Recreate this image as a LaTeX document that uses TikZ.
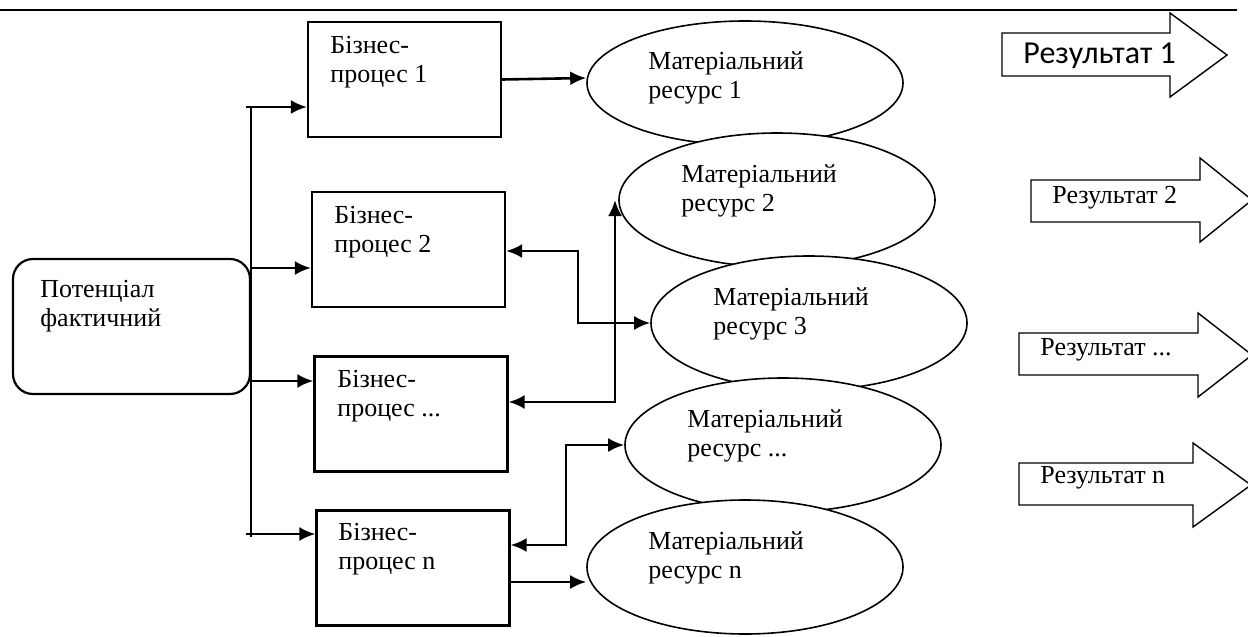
\documentclass[tikz,border=0pt]{standalone}
\usepackage{fontspec}
\setmainfont{Liberation Serif}
\newfontfamily\calfont{Carlito}
\usetikzlibrary{shapes.geometric,arrows.meta}

\begin{document}
\begin{tikzpicture}[x=0.5pt,y=-0.5pt]
	    \tikzset{>={Latex[length=8pt,width=7pt]}}
	    \tikzset{proc/.style={draw,line width=1.1pt,minimum width=96.5pt,minimum height=57.5pt,inner sep=0pt}}
	    \tikzset{res/.style={draw,ellipse,fill=white,line width=0.8pt,minimum width=158pt,minimum height=67pt,inner sep=0pt}}
	    \tikzset{txt/.style={anchor=west,align=left,inner sep=0pt,font=\fontsize{13}{14.5}\selectfont}}
	    \tikzset{link/.style={line width=1.3pt}}
	    \tikzset{outarrow/.style={draw,line width=0.7pt,line join=miter}}
	    \useasboundingbox (0,0) rectangle (1248,637);
	    \clip (0,0) rectangle (1248,637);
	    \draw [line width=1.2pt] (0,10) -- (1237,10);
	    % left part
	    \node (pot) at (131.5,326.5) [draw,line width=1.1pt,rounded corners=10pt,minimum width=118.5pt,minimum height=67.5pt] {};
	    \node (pottxt) at (40,306.5) [txt] {Потенціал\\фактичний};
	    \node (b1) at (404.5,79.5) [proc] {};
	    \node (b2) at (408.5,249.5) [proc] {};
	    \node (b3) at (411,414) [proc] {};
	    \node (bn) at (413,568) [proc] {};
	    \node (b1txt) at (330,62.5) [txt] {Бізнес-\\процес 1};
	    \node (b2txt) at (334,232.5) [txt] {Бізнес-\\процес 2};
	    \node (b3txt) at (337,396) [txt] {Бізнес-\\процес ...};
	    \node (bntxt) at (338,549.5) [txt] {Бізнес-\\процес n};
	    % resources
	    \node (e1) at (745,83) [res,minimum height=62pt] {};
	    \node (e2) at (777,200) [res] {};
	    \node (e3) at (809,323) [res] {};
	    \node (e4) at (783,445) [res] {};
	    \node (en) at (745,567) [res] {};
	    \node (e1txt) at (648,77.5) [txt] {Матеріальний\\ресурс 1};
	    \node (e2txt) at (681,191) [txt] {Матеріальний\\ресурс 2};
	    \node (e3txt) at (713,313.5) [txt] {Матеріальний\\ресурс 3};
	    \node (e4txt) at (687,436) [txt] {Матеріальний\\ресурс ...};
	    \node (entxt) at (648,557.5) [txt] {Матеріальний\\ресурс n};
	    % trunk
	    \coordinate (t1) at (246,107);
	    \coordinate (t2) at (251,268);
	    \coordinate (t3) at (251,381);
	    \coordinate (t4) at (251,537);
	    \draw [link] (t1 -| t2) -- (t4);
	    \draw [link,->] (t1) -- (t1 -| b1.west);
	    \draw [link,->] (t2) -- (t2 -| b2.west);
	    \draw [link,->] (t3) -- (t3 -| b3.west);
	    \draw [link,->] (246,534) coordinate (t5) -- (t5 -| bn.west);
	    % links to resources
	    \draw [link,->] (b1.east) -- (e1.west |- 0,78);
	    \coordinate (out) at (509,582);
	    \draw [link,->] (out) -- (out -| en.west);
	    \coordinate (k2) at (578,251);
	    \draw [link,<->] (k2 -| b2.east) -- (k2) |- (e3.west);
	    \coordinate (k3) at (615,402);
	    \draw [link,<->] (k3 -| b3.east) -- (k3) -- (k3 |- e2.west);
	    \coordinate (k4) at (566,545);
	    \draw [link,<->] (k4 -| bn.east) -- (k4) |- (e4.west);
	    % results
	    \draw [outarrow] (1002,33) -- (1170,33) -- (1170,13) -- (1227,55) -- (1170,97) -- (1170,76) -- (1002,76) -- cycle;
	    \draw [outarrow] (1031,180) -- (1200,180) -- (1200,158) -- (1252,200) -- (1200,242) -- (1200,222) -- (1031,222) -- cycle;
	    \draw [outarrow] (1019,333) -- (1198,333) -- (1198,313) -- (1252,355) -- (1198,397) -- (1198,375) -- (1019,375) -- cycle;
	    \draw [outarrow] (1019,463) -- (1193,463) -- (1193,443) -- (1251,485) -- (1193,527) -- (1193,505) -- (1019,505) -- cycle;
	    \node (r1) at (1023,56) [txt,font=\calfont\fontsize{16}{18}\selectfont] {Результат 1};
	    \node (r2) at (1052,198) [txt] {Результат 2};
	    \node (r3) at (1040,350) [txt] {Результат ...};
	    \node (rn) at (1040,478) [txt] {Результат n};
	\end{tikzpicture}
\end{document}
